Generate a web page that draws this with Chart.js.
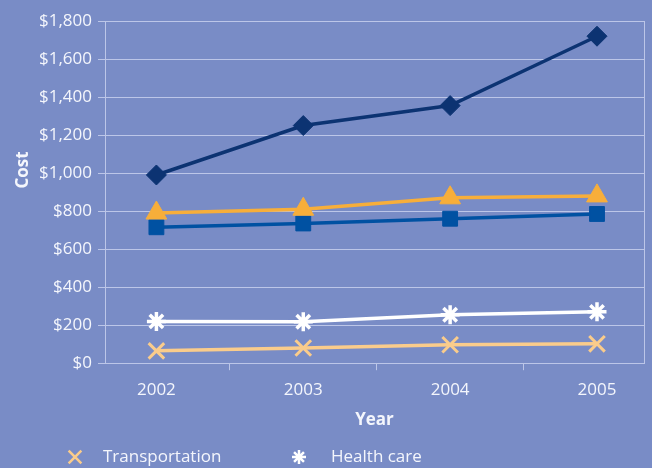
<!DOCTYPE html>
<html>
<head>
<meta charset="utf-8">
<script src="https://cdn.jsdelivr.net/npm/chart.js@4/dist/chart.umd.min.js"></script>
<style>
  html, body { margin: 0; padding: 0; background: #798CC6; overflow: hidden; }
  #wrap { position: relative; width: 652px; height: 468px; }
</style>
</head>
<body>
<div id="wrap"><canvas id="costChart"></canvas></div>
<script>
const years = [2002, 2003, 2004, 2005];
const housing = [990, 1250, 1355, 1720];
const food = [790, 810, 870, 880];
const utilities = [715, 735, 760, 785];
const healthCare = [220, 218, 255, 270];
const transportation = [65, 80, 97, 102];
const yTicks = [0, 200, 400, 600, 800, 1000, 1200, 1400, 1600, 1800];
const legendRow = ['Transportation', 'Health care'];
const yTitle = 'Cost';

const gridColor = '#BCC6E8';
const textColor = '#F4F6FC';
const xMin = 2001.65, xMax = 2005.32;

function series(values) {
    return values.map((v, i) => ({ x: years[i], y: v }));
}

// year ticks, the boundary marks between them, and the right frame edge
function xTickList() {
    const list = [];
    years.forEach((y, i) => {
        list.push({ value: y });
        if (i < years.length - 1) list.push({ value: y + 0.5 });
    });
    list.push({ value: xMax });
    return list;
}

// the one legend row that shows in the picture, plus the y title sitting above centre
const extras = {
    id: 'extras',
    afterDraw(chart) {
        const ctx = chart.ctx;
        const slots = [{ mark: 75, text: 103 }, { mark: 299, text: 331 }];
        ctx.save();
        ctx.font = '17px "Open Sans", sans-serif';
        ctx.textBaseline = 'middle';
        legendRow.forEach((name, i) => {
            const ds = chart.data.datasets.find(d => d.label === name);
            ctx.strokeStyle = ds.borderColor;
            ctx.fillStyle = ds.borderColor;
            ctx.lineWidth = 2.5;
            Chart.helpers.drawPoint(ctx, {
                pointStyle: ds.pointStyle,
                radius: ds.pointStyle === 'star' ? 7 : 9,
                rotation: 0,
                borderWidth: 2.5
            }, slots[i].mark, 457);
            ctx.fillStyle = textColor;
            ctx.fillText(name, slots[i].text, 457);
        });

        ctx.translate(23.5, 170);
        ctx.rotate(-Math.PI / 2);
        ctx.font = 'bold 17px "Open Sans", sans-serif';
        ctx.textAlign = 'center';
        ctx.fillText(yTitle, 0, 0);
        ctx.restore();
    }
};

Chart.defaults.font.family = '"Open Sans", sans-serif';
Chart.defaults.color = textColor;

const ctx = document.getElementById('costChart').getContext('2d');
const costChart = new Chart(ctx, {
    type: 'line',
    data: {
        datasets: [
            {
                label: 'Housing',
                data: series(housing),
                borderColor: '#0C3372',
                backgroundColor: '#0C3372',
                borderWidth: 3.5,
                pointStyle: 'rectRot',
                pointRadius: 10,
                pointBorderWidth: 1
            },
            {
                label: 'Food',
                data: series(food),
                borderColor: '#F7AE3A',
                backgroundColor: '#F7AE3A',
                borderWidth: 3.5,
                pointStyle: 'triangle',
                pointRadius: 12,
                pointBorderWidth: 1
            },
            {
                label: 'Utilities',
                data: series(utilities),
                borderColor: '#0051A2',
                backgroundColor: '#0051A2',
                borderWidth: 3.5,
                pointStyle: 'rect',
                pointRadius: 10.5,
                pointBorderWidth: 1
            },
            {
                label: 'Health care',
                data: series(healthCare),
                borderColor: '#FFFFFF',
                backgroundColor: '#FFFFFF',
                borderWidth: 3.5,
                pointStyle: 'star',
                pointRadius: 9.5,
                pointBorderWidth: 3.5
            },
            {
                label: 'Transportation',
                data: series(transportation),
                borderColor: '#FACC8B',
                backgroundColor: '#FACC8B',
                borderWidth: 3.5,
                pointStyle: 'crossRot',
                pointRadius: 11,
                pointBorderWidth: 3
            }
        ]
    },
    options: {
        responsive: true,
        maintainAspectRatio: false,
        animation: false,
        layout: { autoPadding: false, padding: { left: 33, right: 8, top: 21, bottom: 38 } },
        plugins: {
            legend: { display: false },
            tooltip: { enabled: false }
        },
        scales: {
            x: {
                type: 'linear',
                min: xMin,
                max: xMax,
                afterBuildTicks: axis => { axis.ticks = xTickList(); },
                afterFit: axis => { axis.paddingRight = 0; axis.paddingLeft = 0; },
                ticks: {
                    autoSkip: false,
                    maxRotation: 0,
                    padding: 9.5,
                    font: { size: 17 },
                    callback: v => years.includes(v) ? String(v) : ''
                },
                grid: {
                    tickLength: 7,
                    color: c => c.tick && c.tick.value === xMax ? gridColor : 'transparent',
                    tickColor: c => c.tick && !years.includes(c.tick.value) && c.tick.value !== xMax ? gridColor : 'transparent'
                },
                border: { color: gridColor, width: 1 },
                title: {
                    display: true,
                    text: 'Year',
                    font: { size: 17, weight: 'bold' },
                    padding: { top: 0, bottom: 0 }
                }
            },
            y: {
                min: 0,
                max: 1800,
                afterBuildTicks: axis => { axis.ticks = yTicks.map(v => ({ value: v })); },
                ticks: {
                    padding: 6,
                    font: { size: 17 },
                    callback: v => '$' + v.toLocaleString('en-US')
                },
                grid: { color: gridColor, tickColor: gridColor, tickLength: 7 },
                border: { color: gridColor, width: 1 }
            }
        }
    },
    plugins: [extras]
});
</script>
</body>
</html>
